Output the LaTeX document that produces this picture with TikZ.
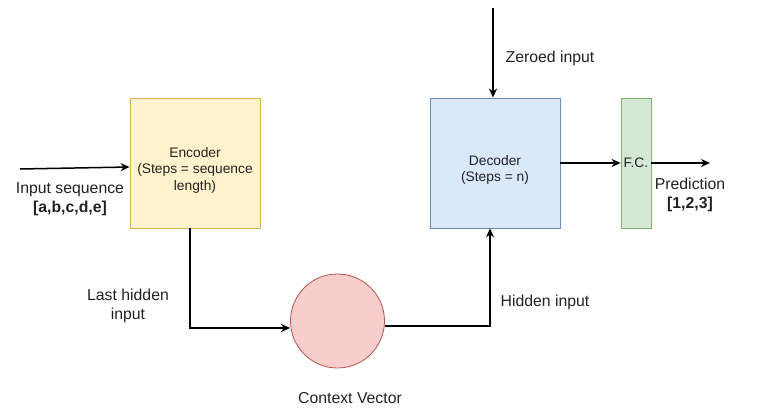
\documentclass[tikz,border=0pt]{standalone}
\usepackage{fontspec}
\setmainfont{Liberation Sans}
\usetikzlibrary{arrows.meta}
\definecolor{encfill}{HTML}{FFF2CC}
\definecolor{encdraw}{HTML}{D6B656}
\definecolor{decfill}{HTML}{DAE8FC}
\definecolor{decdraw}{HTML}{6C8EBF}
\definecolor{fcfill}{HTML}{D5E8D4}
\definecolor{fcdraw}{HTML}{82B366}
\definecolor{cvfill}{HTML}{F8CECC}
\definecolor{cvdraw}{HTML}{B85450}
\definecolor{txt}{HTML}{222222}
\begin{document}
\begin{tikzpicture}[x=1pt,y=-1pt,
  box/.style={draw, line width=0.8pt, minimum width=130pt, minimum height=130pt, inner sep=0pt, align=center, text=txt, font=\fontsize{13.8}{16.5}\selectfont},
  boxtext/.style={align=center, text=txt, inner sep=0pt, font=\fontsize{13.8}{16.5}\selectfont},
  lbl/.style={text=txt, align=center, inner sep=0pt, font=\fontsize{15.8}{18.5}\selectfont},
  conn/.style={line width=1.5pt, -{Stealth[length=9pt,width=8pt]}}
]
\useasboundingbox (0,0) rectangle (768,419);
\node[box, fill=encfill, draw=encdraw] (enc) at (195,163) {};
\node[box, fill=decfill, draw=decdraw] (dec) at (495,163) {};
\node[boxtext] (enct) at ([yshift=-7pt]enc.center) {Encoder\\(Steps = sequence\\length)};
\node[boxtext] (dect) at ([yshift=-7pt]dec.center) {Decoder\\(Steps = n)};
\node[box, fill=fcfill, draw=fcdraw, minimum width=30pt] (fc) at (636,163) {F.C.};
\node[circle, draw=cvdraw, fill=cvfill, line width=0.8pt, minimum size=94pt, inner sep=0pt] (cv) at (337.5,321) {};
\coordinate (inA) at (20,169);
\coordinate (zA) at (493,8);
\coordinate (outB) at (710,163);
\coordinate (k1) at (190,328);
\coordinate (k2) at (490,326);
\node[lbl] (inlbl) at (70,199) {Input sequence\\\textbf{[a,b,c,d,e]}};
\node[lbl] (zlbl) at (550,58) {Zeroed input};
\node[lbl] (plbl) at (690,195) {Prediction\\\textbf{[1,2,3]}};
\node[lbl] (lhl) at (128,306) {Last hidden\\input};
\node[lbl] (hil) at (545,302) {Hidden input};
\node[lbl] (cvl) at (350,398) {Context Vector};
\draw[conn] (inA) -- (enc.west |- 0,167);
\draw[conn] (zA) -- (zA |- dec.north);
\draw[conn] (dec.east) -- (fc.west);
\draw[conn] (fc.east) -- (outB);
\draw[conn] (enc.south -| k1) -- (k1) -- (cv.west |- k1);
\draw[conn] (cv.east |- 0,326) -- (k2) -- (k2 |- dec.south);
\end{tikzpicture}
\end{document}
